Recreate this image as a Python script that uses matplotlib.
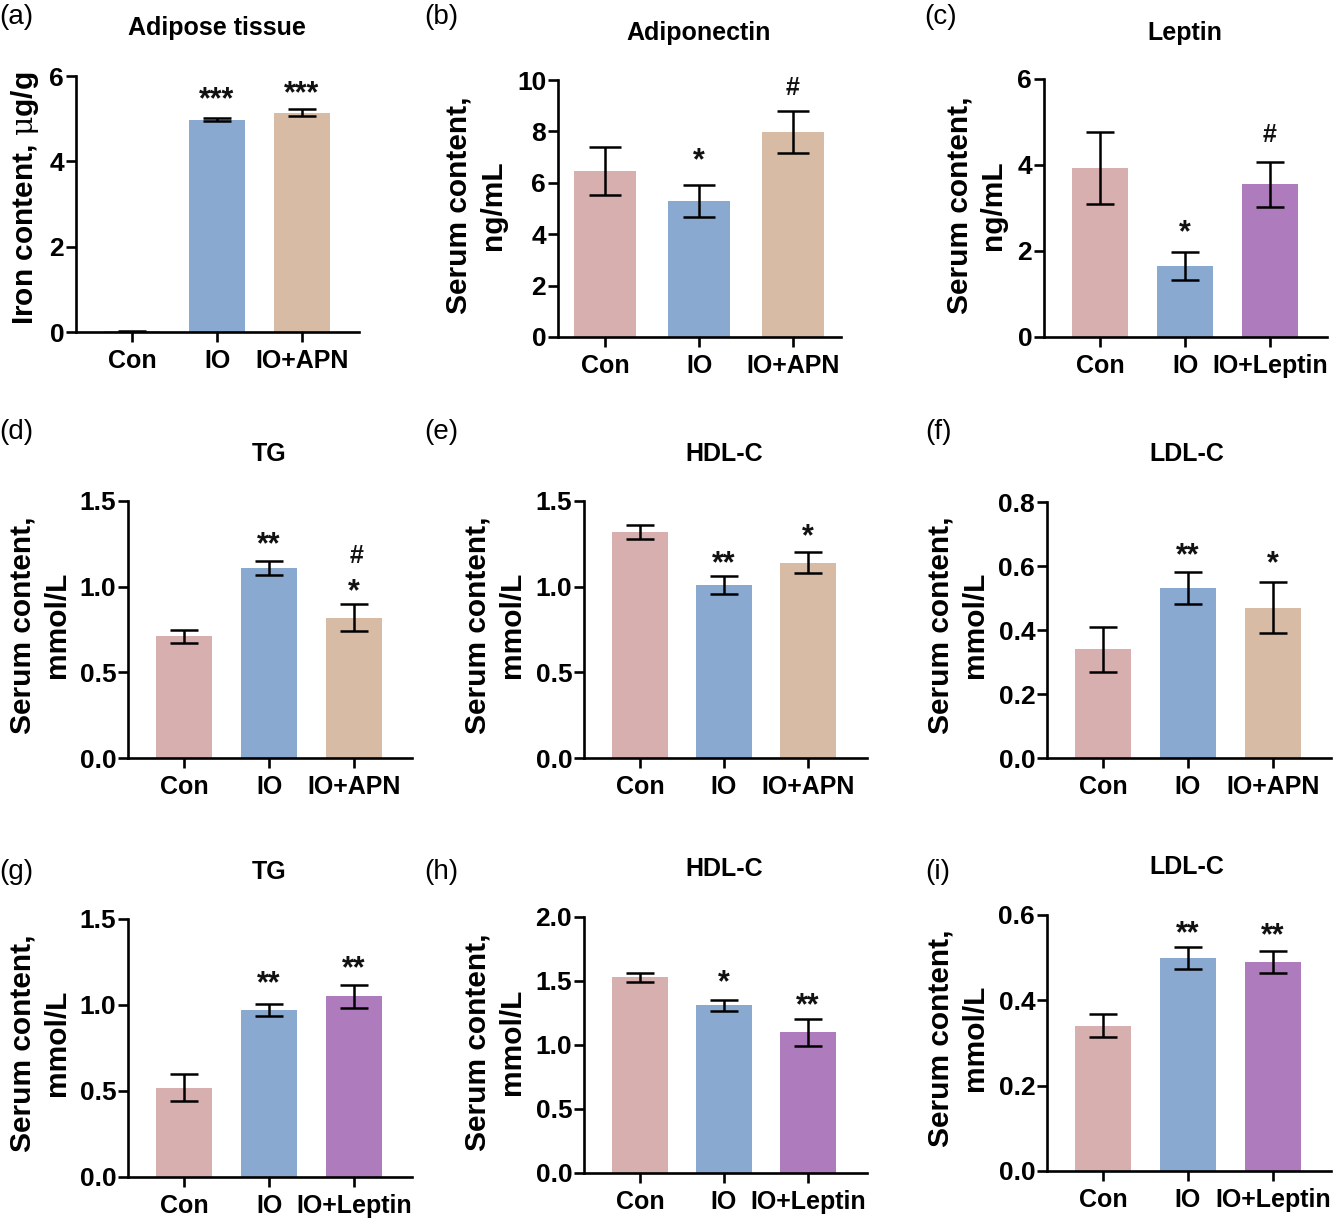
import matplotlib
matplotlib.use('Agg')
from matplotlib import pyplot as plt

plt.rcParams['font.family'] = ['Liberation Sans', 'DejaVu Sans']
plt.rcParams['mathtext.fontset'] = 'dejavuserif'

W, H = 1333, 1221

PINK = '#D7AFAE'
BLUE = '#8AA9D1'
TAN = '#D8BBA5'
PURPLE = '#AE7CBC'

apn_groups = ['Con', 'IO', 'IO+APN']
leptin_groups = ['Con', 'IO', 'IO+Leptin']

# values, errors, stars
a_vals, a_errs = [0.02, 4.98, 5.14], [0.01, 0.03, 0.08]
b_vals, b_errs = [6.45, 5.28, 7.97], [0.93, 0.62, 0.81]
c_vals, c_errs = [3.93, 1.65, 3.55], [0.84, 0.32, 0.53]
d_vals, d_errs = [0.71, 1.11, 0.82], [0.04, 0.04, 0.08]
e_vals, e_errs = [1.32, 1.01, 1.14], [0.04, 0.05, 0.06]
f_vals, f_errs = [0.34, 0.53, 0.47], [0.07, 0.05, 0.08]
g_vals, g_errs = [0.52, 0.97, 1.05], [0.08, 0.035, 0.065]
h_vals, h_errs = [1.53, 1.31, 1.10], [0.035, 0.045, 0.105]
i_vals, i_errs = [0.34, 0.50, 0.49], [0.027, 0.026, 0.026]

a_ticks = [0, 2, 4, 6]
b_ticks = [0, 2, 4, 6, 8, 10]
c_ticks = [0, 2, 4, 6]
tg_ticks = [0.0, 0.5, 1.0, 1.5]
ldl_ticks = [0.0, 0.2, 0.4, 0.6, 0.8]
h_ticks = [0.0, 0.5, 1.0, 1.5, 2.0]
i_ticks = [0.0, 0.2, 0.4, 0.6]

a_marks = [(1, 5.43, '***'), (2, 5.57, '***')]
b_marks = [(1, 6.85, '*'), (2, 9.7, '#')]
c_marks = [(1, 2.42, '*'), (2, 4.7, '#')]
d_marks = [(1, 1.24, '**'), (2, 0.97, '*'), (2.03, 1.18, '#')]
e_marks = [(1, 1.13, '**'), (2, 1.29, '*')]
f_marks = [(1, 0.63, '**'), (2, 0.605, '*')]
g_marks = [(1, 1.12, '**'), (2, 1.21, '**')]
h_marks = [(1, 1.48, '*'), (2, 1.3, '**')]
i_marks = [(1, 0.555, '**'), (2, 0.55, '**')]


def panel(fig, box, centers, groups, vals, errs, ticks, colors, marks, title, title_xy,
          tag, tag_xy, ylines, ylab_y, fmt='%g'):
    left, top, right, bottom = box
    ax = fig.add_axes([left / W, 1 - bottom / H, (right - left) / W, (bottom - top) / H])
    step = centers[1] - centers[0]
    ax.bar(range(3), vals, width=56 / 85, color=colors, linewidth=0)
    for i in range(3):
        ax.errorbar(i, vals[i], yerr=errs[i], color='black', elinewidth=1.8,
                    capsize=10.2 * step / 85, capthick=1.8)
    ax.set_xlim((left - centers[0]) / step, (right - centers[0]) / step)
    ax.set_ylim(ticks[0], ticks[-1])
    ax.set_xticks(range(3))
    ax.set_xticklabels(groups)
    ax.set_yticks(ticks)
    ax.set_yticklabels([fmt % t for t in ticks])
    for s in ['top', 'right']:
        ax.spines[s].set_visible(False)
    for s in ['left', 'bottom']:
        ax.spines[s].set_linewidth(1.9)
    ax.tick_params(axis='x', length=7.5, width=1.9, labelsize=18, pad=5)
    ax.tick_params(axis='y', length=7.5, width=1.9, labelsize=19, pad=1)
    for lab in ax.get_xticklabels() + ax.get_yticklabels():
        lab.set_fontweight('bold')
    for x, y, s in marks:
        ax.text(x, y, s, ha='center', va='center', fontsize=22 if s != '#' else 18,
                fontweight='bold', color='#111111')
    fig.text(title_xy[0] / W, 1 - title_xy[1] / H, title, ha='center', va='center',
             fontsize=18, fontweight='bold')
    fig.text(tag_xy[0] / W, 1 - tag_xy[1] / H, tag, ha='left', va='center', fontsize=20)
    for x, s in ylines:
        fig.text(x / W, 1 - ylab_y / H, s, rotation=90, ha='center', va='center',
                 fontsize=21.5, fontweight='bold')
    return ax


fig = plt.figure(figsize=(W / 100, H / 100), dpi=100)

panel(fig, (76, 76, 359, 332), (132, 217, 302), apn_groups, a_vals, a_errs, a_ticks,
      [PINK, BLUE, TAN], a_marks, 'Adipose tissue', (217, 28), '(a)', (-1, 17),
      [(25, 'Iron content, $\\mathrm{\\mu}$g/g')], 198)
panel(fig, (558, 80, 841, 337), (605, 699, 793), apn_groups, b_vals, b_errs, b_ticks,
      [PINK, BLUE, TAN], b_marks, 'Adiponectin', (699, 33), '(b)', (424, 17),
      [(458.5, 'Serum content,'), (493, 'ng/mL')], 205)
panel(fig, (1044, 79, 1327, 337), (1100, 1185, 1270), leptin_groups, c_vals, c_errs, c_ticks,
      [PINK, BLUE, PURPLE], c_marks, 'Leptin', (1185, 33), '(c)', (924, 17),
      [(959.5, 'Serum content,'), (993, 'ng/mL')], 205)

panel(fig, (128, 501, 412, 758), (184, 269, 354), apn_groups, d_vals, d_errs, tg_ticks,
      [PINK, BLUE, TAN], d_marks, 'TG', (269, 454), '(d)', (-1, 432),
      [(22.5, 'Serum content,'), (57, 'mmol/L')], 625, fmt='%.1f')
panel(fig, (584, 501, 867, 758), (640, 724, 809), apn_groups, e_vals, e_errs, tg_ticks,
      [PINK, BLUE, TAN], e_marks, 'HDL-C', (724, 454), '(e)', (424, 432),
      [(477.5, 'Serum content,'), (512, 'mmol/L')], 625, fmt='%.1f')
panel(fig, (1047, 502, 1331, 758), (1103, 1188, 1273), apn_groups, f_vals, f_errs, ldl_ticks,
      [PINK, BLUE, TAN], f_marks, 'LDL-C', (1187, 454), '(f)', (925, 432),
      [(940.5, 'Serum content,'), (975, 'mmol/L')], 625, fmt='%.1f')

panel(fig, (128, 919, 412, 1177), (184, 269, 354), leptin_groups, g_vals, g_errs, tg_ticks,
      [PINK, BLUE, PURPLE], g_marks, 'TG', (269, 872), '(g)', (-1, 872),
      [(22.5, 'Serum content,'), (57, 'mmol/L')], 1043, fmt='%.1f')
panel(fig, (584, 917, 867, 1173), (640, 724, 809), leptin_groups, h_vals, h_errs, h_ticks,
      [PINK, BLUE, PURPLE], h_marks, 'HDL-C', (724, 869), '(h)', (424, 872),
      [(477.5, 'Serum content,'), (512, 'mmol/L')], 1042, fmt='%.1f')
panel(fig, (1047, 915, 1331, 1171), (1103, 1188, 1273), leptin_groups, i_vals, i_errs, i_ticks,
      [PINK, BLUE, PURPLE], i_marks, 'LDL-C', (1187, 867), '(i)', (925, 872),
      [(940.5, 'Serum content,'), (975, 'mmol/L')], 1038, fmt='%.1f')

plt.savefig('out.png', dpi=100)
